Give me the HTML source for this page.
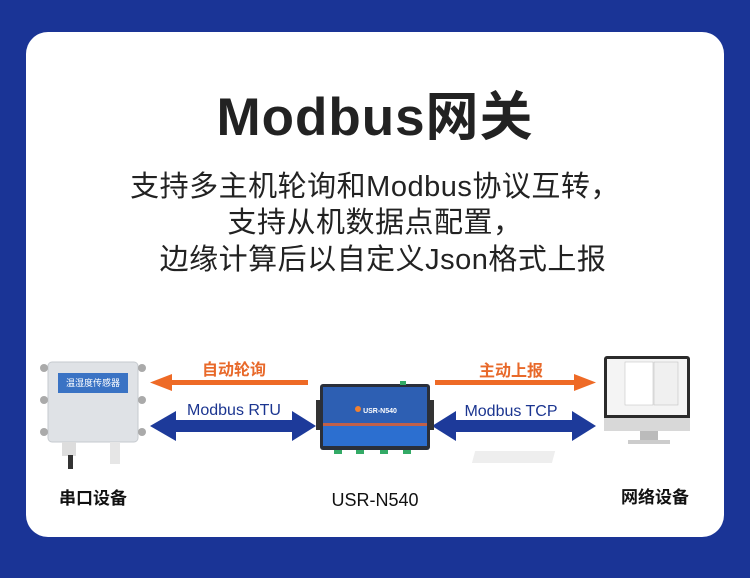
<!DOCTYPE html>
<html><head><meta charset="utf-8"><style>
html,body{margin:0;padding:0;width:750px;height:578px;overflow:hidden;background:#1a3496}
svg{display:block}
text{font-family:"Liberation Sans","Noto Sans CJK SC",sans-serif}
</style></head><body>
<svg width="750" height="578" viewBox="0 0 750 578">
<rect x="0" y="0" width="750" height="578" fill="#1a3496"/>
<rect x="26" y="32" width="698" height="505" rx="22" fill="#ffffff"/>
<text x="375" y="135" text-anchor="middle" font-size="53" font-weight="bold" fill="#222" letter-spacing="1">Modbus网关</text>
<text x="375" y="196" text-anchor="middle" font-size="29" fill="#222" letter-spacing="0.5">支持多主机轮询和Modbus协议互转，</text>
<text x="375" y="232" text-anchor="middle" font-size="29" fill="#222" letter-spacing="0.5">支持从机数据点配置，</text>
<text x="383" y="269" text-anchor="middle" font-size="29" fill="#222" letter-spacing="0.5">边缘计算后以自定义Json格式上报</text>

<!-- sensor -->
<rect x="48" y="362" width="90" height="80" rx="4" fill="#dfe2e6" stroke="#c6cacf"/>
<rect x="58" y="373" width="70" height="20" fill="#3a73c4"/>
<text x="93" y="386" text-anchor="middle" font-size="9" fill="#fff">温湿度传感器</text>
<circle cx="44" cy="368" r="4" fill="#aaa"/><circle cx="142" cy="368" r="4" fill="#aaa"/>
<circle cx="44" cy="400" r="4" fill="#aaa"/><circle cx="142" cy="400" r="4" fill="#aaa"/>
<circle cx="44" cy="432" r="4" fill="#aaa"/><circle cx="142" cy="432" r="4" fill="#aaa"/>
<rect x="62" y="442" width="14" height="14" fill="#ddd"/>
<rect x="68" y="455" width="5" height="14" fill="#333"/>
<rect x="110" y="442" width="10" height="22" fill="#e6e6e6"/>

<!-- orange arrows -->
<text x="234" y="375" text-anchor="middle" font-size="16" font-weight="bold" fill="#e8692a">自动轮询</text>
<rect x="168" y="380" width="140" height="5" fill="#ee6a26"/>
<polygon points="150,382.5 172,374 172,391" fill="#ee6a26"/>
<text x="511" y="376" text-anchor="middle" font-size="16" font-weight="bold" fill="#e8692a">主动上报</text>
<rect x="435" y="380" width="142" height="5" fill="#ee6a26"/>
<polygon points="596,382.5 574,374 574,391" fill="#ee6a26"/>

<!-- blue arrows -->
<text x="234" y="415" text-anchor="middle" font-size="16" fill="#1b3590">Modbus RTU</text>
<rect x="168" y="420" width="128" height="12" fill="#1d3a9a"/>
<polygon points="150,426 176,411 176,441" fill="#1d3a9a"/>
<polygon points="316,426 292,411 292,441" fill="#1d3a9a"/>
<text x="511" y="416" text-anchor="middle" font-size="16" fill="#1b3590">Modbus TCP</text>
<rect x="452" y="420" width="124" height="12" fill="#1d3a9a"/>
<polygon points="432,426 456,411 456,441" fill="#1d3a9a"/>
<polygon points="596,426 572,411 572,441" fill="#1d3a9a"/>

<!-- device -->
<rect x="316" y="400" width="6" height="30" fill="#333"/>
<rect x="428" y="400" width="6" height="30" fill="#333"/>
<rect x="320" y="384" width="110" height="66" rx="3" fill="#2a2f3a"/>
<rect x="323" y="387" width="104" height="36" fill="#2d5fb3"/>
<rect x="323" y="423" width="104" height="3" fill="#c0604a"/>
<rect x="323" y="426" width="104" height="20" fill="#2c6fd0"/>
<circle cx="358" cy="409" r="3" fill="#f08030"/>
<text x="380" y="413" text-anchor="middle" font-size="7" font-weight="bold" fill="#fff">USR-N540</text>
<rect x="334" y="450" width="8" height="4" fill="#3a6"/><rect x="356" y="450" width="8" height="4" fill="#3a6"/>
<rect x="380" y="450" width="8" height="4" fill="#3a6"/><rect x="403" y="450" width="8" height="4" fill="#3a6"/>
<rect x="400" y="381" width="6" height="4" fill="#3a6"/>

<!-- monitor -->
<rect x="604" y="356" width="86" height="75" rx="3" fill="#2b2b2b"/>
<rect x="607" y="359" width="80" height="56" fill="#f4f4f4"/>
<rect x="625" y="362" width="28" height="43" fill="#fff" stroke="#bbb" stroke-width="0.5"/>
<rect x="654" y="362" width="24" height="43" fill="#f0f0f0" stroke="#bbb" stroke-width="0.5"/>
<rect x="604" y="418" width="86" height="13" fill="#d8d8d8"/>
<rect x="640" y="431" width="18" height="10" fill="#bbb"/>
<rect x="628" y="440" width="42" height="4" fill="#ccc"/>
<rect x="596" y="451" width="80" height="12" fill="#eeeeee" transform="skewX(-15)"/>

<text x="93" y="504" text-anchor="middle" font-size="17" font-weight="bold" fill="#111">串口设备</text>
<text x="375" y="506" text-anchor="middle" font-size="18" fill="#111">USR-N540</text>
<text x="655" y="503" text-anchor="middle" font-size="17" font-weight="bold" fill="#111">网络设备</text>
</svg>
</body></html>
